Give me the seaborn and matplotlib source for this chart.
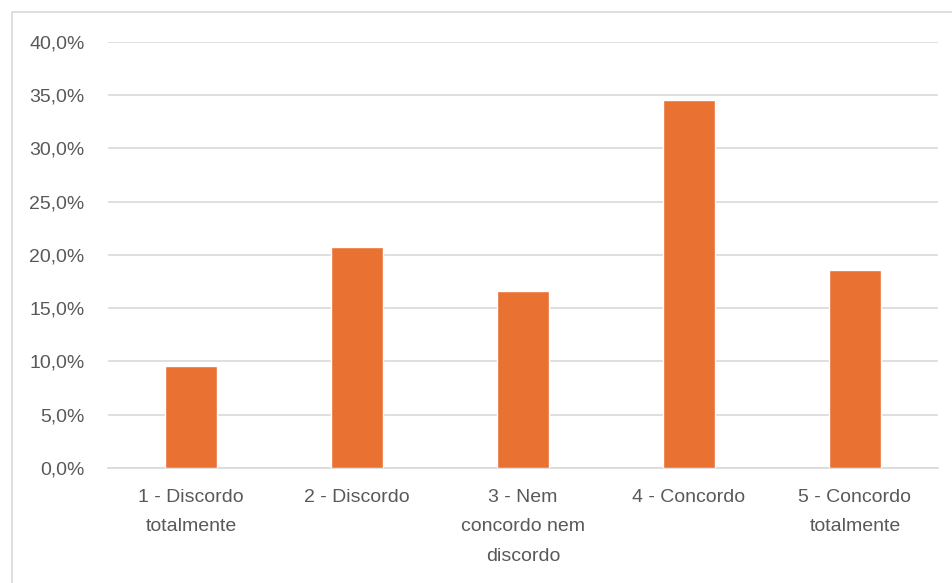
import pandas as pd
import matplotlib
matplotlib.use("Agg")
from matplotlib import pyplot as plt
from matplotlib.patches import Rectangle
from matplotlib.ticker import FuncFormatter, MultipleLocator
import seaborn as sns

# Chart data
categories = [
    "1 - Discordo\ntotalmente",
    "2 - Discordo",
    "3 - Nem\nconcordo nem\ndiscordo",
    "4 - Concordo",
    "5 - Concordo\ntotalmente",
]
shares = [0.096, 0.207, 0.166, 0.345, 0.186]

df = pd.DataFrame({"resposta": categories, "share": shares})

sns.set_style("white")
plt.rcParams["font.family"] = ["Liberation Sans", "DejaVu Sans"]

fig = plt.figure(figsize=(9.53, 5.83), dpi=100)
ax = fig.add_axes([108 / 953, 1 - 468 / 583, (938 - 108) / 953, (468 - 41.7) / 583])

sns.barplot(data=df, x="resposta", y="share", color="#E97132",
            saturation=1, width=0.31, ax=ax, zorder=3)

ax.set_ylim(0, 0.40)
ax.set_xlim(-0.5, len(categories) - 0.5)
ax.yaxis.set_major_locator(MultipleLocator(0.05))
ax.yaxis.set_major_formatter(
    FuncFormatter(lambda v, _: f"{v * 100:.1f}%".replace(".", ",")))
ax.grid(axis="y", color="#d9d9d9", linewidth=1.2, zorder=0)
ax.set_xlabel("")
ax.set_ylabel("")
for s in ["top", "right", "left"]:
    ax.spines[s].set_visible(False)
ax.spines["bottom"].set_color("#d9d9d9")
ax.spines["bottom"].set_linewidth(1.2)
ax.tick_params(axis="both", length=0, colors="#595959", labelsize=14)
ax.tick_params(axis="y", pad=17)
ax.tick_params(axis="x", pad=15)
for lbl in ax.get_xticklabels():
    lbl.set_linespacing(1.95)
    lbl.set_va("top")

# outer chart border
fig.patches.append(Rectangle((12 / 953, -0.1), 1.2, (583 - 12) / 583 + 0.1,
                             transform=fig.transFigure, fill=False,
                             edgecolor="#d9d9d9", linewidth=1.2))

fig.savefig("out.png", dpi=100)
